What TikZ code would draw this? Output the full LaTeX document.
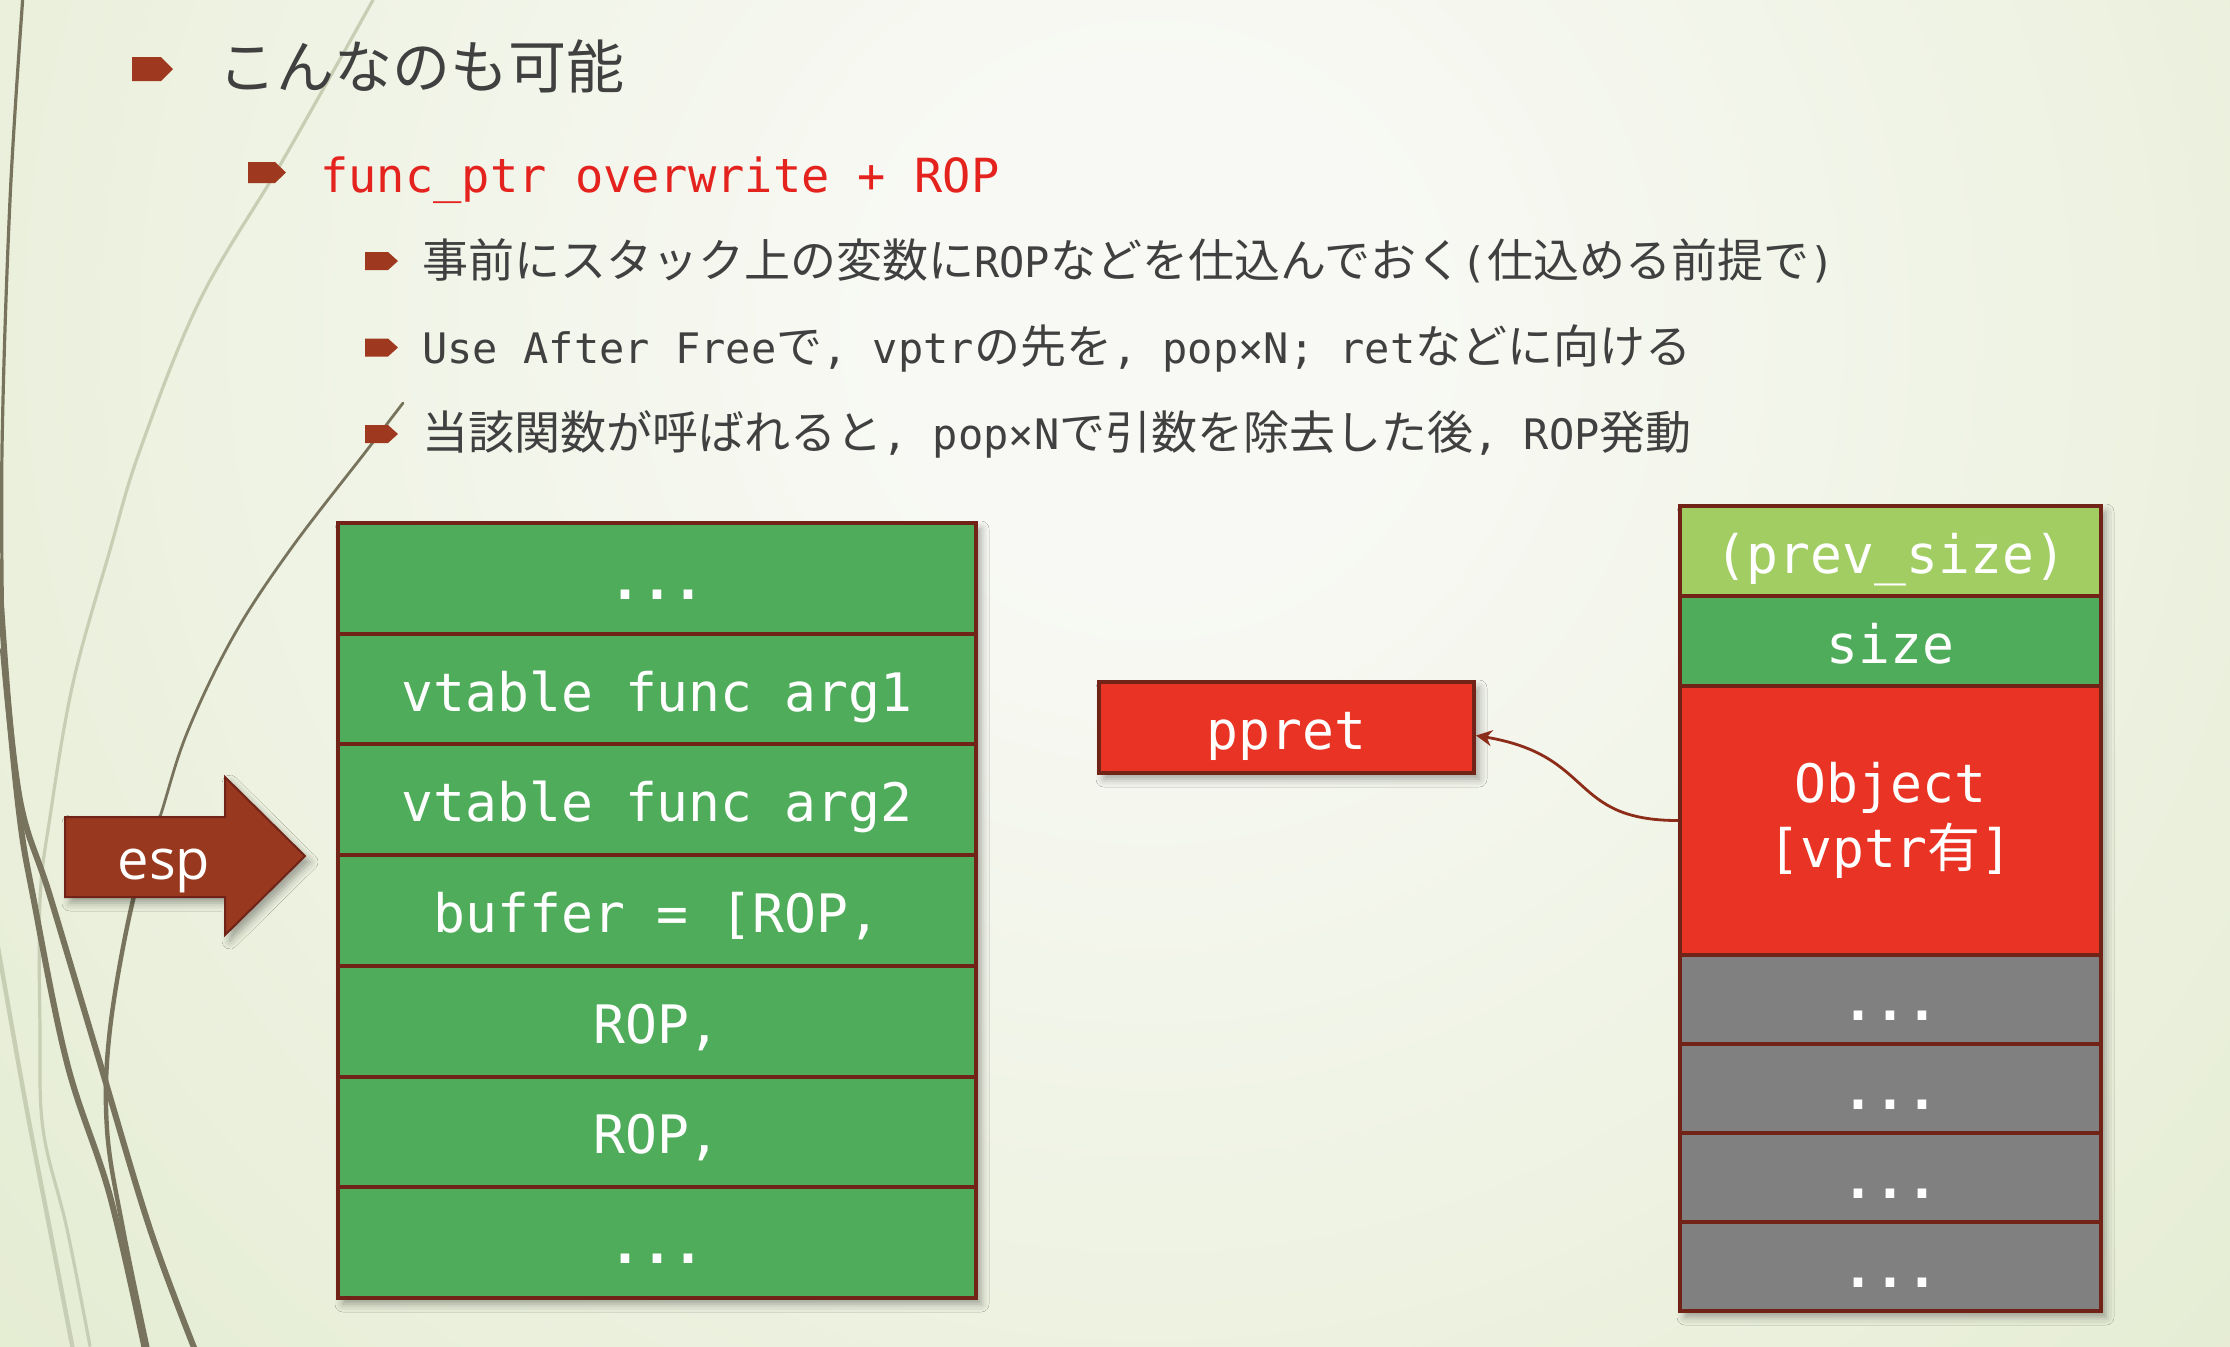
\documentclass[tikz,border=0pt]{standalone}
\usepackage{fontspec}
\setmainfont{Open Sans}
\newfontfamily\cjk{Noto Sans CJK JP}
\newfontfamily\mono{DejaVu Sans Mono}
\usetikzlibrary{shadows.blur,calc,arrows.meta}

\definecolor{bgin}{RGB}{248,249,244}
\definecolor{bgout}{RGB}{222,232,199}
\definecolor{bul}{RGB}{158,56,30}
\definecolor{bord}{RGB}{112,35,22}
\definecolor{gr}{RGB}{79,172,91}
\definecolor{lgr}{RGB}{161,205,99}
\definecolor{rd}{RGB}{233,51,36}
\definecolor{gy}{RGB}{128,128,128}
\definecolor{txt}{RGB}{64,64,64}
\definecolor{hl}{RGB}{228,34,30}
\definecolor{olive}{RGB}{120,115,92}
\definecolor{pale}{RGB}{200,206,180}
\definecolor{espfill}{RGB}{152,56,30}
\definecolor{conn}{RGB}{140,45,25}

\pgfdeclareradialshading{bgshade}{\pgfpoint{0bp}{0bp}}{color(0bp)=(bgin); color(3bp)=(bgin); color(23bp)=(bgout); color(50bp)=(bgout)}

\newcommand\cellfont{\mono\fontsize{26.5}{32.5}\selectfont}
\newcommand\jtxt[1]{{\cjk\fontsize{23}{28}\selectfont #1}}
\newcommand\mtxt[1]{{\mono\fontsize{21}{28}\selectfont #1}}

\tikzset{
  cellbase/.style={draw=bord, line width=2pt, text=white, font=\cellfont, inner sep=0pt},
  txtcell/.style={cellbase, text height=22pt, text depth=0pt},
  dotcell/.style={cellbase, text height=21pt, text depth=0pt, font=\cellfont\bfseries},
  lcell/.style={minimum width=319pt, minimum height=55.36pt},
  rcell/.style={minimum width=210.5pt},
  bullet/.style={fill=bul},
  boxshadow/.style={blur shadow={shadow xshift=2.5pt, shadow yshift=-3pt, shadow blur radius=4pt, shadow opacity=35}},
  deco/.style={line cap=round},
  line/.style={anchor=base west, inner sep=0pt, text=txt},
}

\begin{document}
\begin{tikzpicture}[x=0.5pt, y=-0.5pt]
\useasboundingbox (0,0) rectangle (2230,1346);
% background
\fill[bgout] (0,0) rectangle (2230,1346);
\begin{scope}
  \clip (0,0) rectangle (2230,1346);
  \shade[shading=bgshade] (1150,330) circle (1083pt);
  % decorative lines
  \draw[deco, pale, line width=1.6pt] plot[smooth, tension=0.6] coordinates {(373,0) (283,160) (200,300) (140,450) (110,550) (73,683) (50,817) (40,900) (40,1029) (43,1129) (67,1229) (90,1346)};
  \draw[deco, pale, line width=2.2pt] plot[smooth, tension=0.6] coordinates {(-5,930) (25,1100) (50,1230) (73,1350)};
  \draw[deco, olive, line width=1.6pt] plot[smooth, tension=0.6] coordinates {(23,-5) (10,200) (2,450) (3,650)};
  \draw[deco, olive, line width=3pt] plot[smooth, tension=0.6] coordinates {(3,650) (20,800) (50,896) (100,1063) (150,1229) (195,1350)};
  \draw[deco, olive, line width=3pt] plot[smooth, tension=0.6] coordinates {(-2,560) (8,700) (20,820) (33,896) (67,1063) (110,1196) (145,1350)};
  \draw[deco, olive, line width=1.4pt] plot[smooth, tension=0.6] coordinates {(403,403) (367,450) (290,550) (233,637) (187,733) (160,817) (133,900)};
  \draw[deco, olive, line width=2.2pt] plot[smooth, tension=0.6] coordinates {(160,817) (133,900) (110,1029) (107,1129) (123,1229) (148,1350)};
\end{scope}

% bullets
\fill[bullet] (132,57) -- (161,57) -- (173,69) -- (161,81) -- (132,81) -- cycle;
\fill[bullet] (248,162) -- (275,162) -- (286,172.5) -- (275,183) -- (248,183) -- cycle;
\foreach \c in {261,347.5,434}
  \fill[bullet] (365,\c-9) -- (388,\c-9) -- (398,\c) -- (388,\c+9) -- (365,\c+9) -- cycle;

% texts
\node[line, font=\cjk\fontsize{29}{34}\selectfont] (title) at (218,88) {こんなのも可能};
\node[line, text=hl, font=\mono\fontsize{23.5}{28}\selectfont] (sub) at (320,192) {func\_ptr overwrite + ROP};
\node[line] (l3) at (422,277) {\jtxt{事前にスタック上の変数に}\mtxt{ROP}\jtxt{などを仕込んでおく}\mtxt{(}\jtxt{仕込める前提で}\mtxt{)}};
\node[line] (l4) at (422,363) {\mtxt{Use After Free}\jtxt{で}\mtxt{, vptr}\jtxt{の先を}\mtxt{, pop×N; ret}\jtxt{などに向ける}};
\node[line] (l5) at (422,449) {\jtxt{当該関数が呼ばれると}\mtxt{, pop×N}\jtxt{で引数を除去した後}\mtxt{, ROP}\jtxt{発動}};

% left stack
\path[boxshadow] (338,523) rectangle (976,1298);
\node[dotcell, lcell, fill=gr] (s1) at (657,578.4) {...};
\node[txtcell, lcell, fill=gr] (s2) at (657,689.1) {vtable func arg1};
\node[txtcell, lcell, fill=gr] (s3) at (657,799.8) {vtable func arg2};
\node[txtcell, lcell, fill=gr] (s4) at (657,910.5) {buffer = [ROP,};
\node[txtcell, lcell, fill=gr] (s5) at (657,1021.2) {ROP,};
\node[txtcell, lcell, fill=gr] (s6) at (657,1131.9) {ROP,};
\node[dotcell, lcell, fill=gr] (s7) at (657,1242.6) {...};

% esp arrow
\path[boxshadow, fill=espfill, draw=bord, line width=1pt] (65,817) -- (225,817) -- (225,777) -- (305,856) -- (225,935) -- (225,897) -- (65,897) -- cycle;
\node[anchor=base, text=white, inner sep=0pt, font=\fontsize{28}{34}\selectfont] (esp) at (164,879) {esp};

% right stack
\path[boxshadow] (1680,506) rectangle (2101,1311);
\node[txtcell, rcell, fill=lgr, minimum height=45pt] (prev) at (1890.5,551) {(prev\_size)};
\node[txtcell, rcell, fill=gr, minimum height=45pt] (size) at (1890.5,641) {size};
\node[cellbase, rcell, fill=rd, minimum height=134.5pt, align=center] (obj) at (1890.5,820.5) {Object\\{}[vptr{\cjk 有}]};
\node[dotcell, rcell, fill=gy, minimum height=44.5pt] (g1) at (1890.5,999.5) {...};
\node[dotcell, rcell, fill=gy, minimum height=44.5pt] (g2) at (1890.5,1088.5) {...};
\node[dotcell, rcell, fill=gy, minimum height=44.5pt] (g3) at (1890.5,1177.5) {...};
\node[dotcell, rcell, fill=gy, minimum height=44.5pt] (g4) at (1890.5,1266.5) {...};

% ppret
\node[txtcell, boxshadow, fill=rd, minimum width=187.5pt, minimum height=45.5pt] (pp) at (1286.5,727.5) {ppret};

% connector
\draw[conn, line width=1.4pt, -{Stealth[length=8pt,width=8pt]}] (obj.west) .. controls +(-110,0) and +(120,20) .. ($(pp.east)+(0,8)$);
\end{tikzpicture}
\end{document}
